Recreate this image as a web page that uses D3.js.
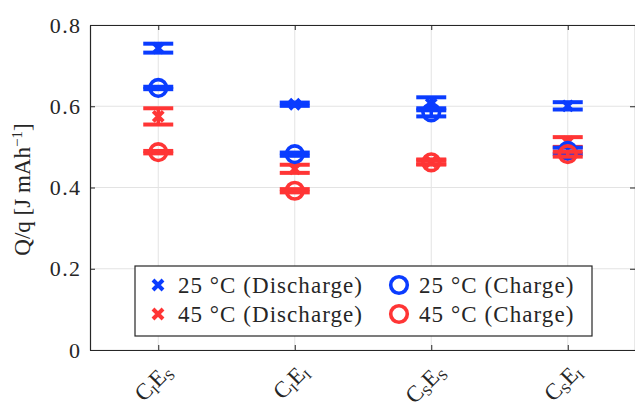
<!DOCTYPE html>
<html>
<head>
<meta charset="utf-8">
<script src="https://cdn.jsdelivr.net/npm/d3@7"></script>
<style>
  body { margin: 0; background: #fff; }
</style>
</head>
<body>
<div id="chart"></div>
<script>
// Data
const categories = [["C", "I", "E", "S"], ["C", "I", "E", "I"], ["C", "S", "E", "S"], ["C", "S", "E", "I"]];
const yTicks = [0, 0.2, 0.4, 0.6, 0.8];

const dis25 = [0.743, 0.605, 0.606, 0.601];
const dis25Err = [0.011, 0.004, 0.016, 0.009];
const dis45 = [0.575, 0.446, 0.463, 0.512];
const dis45Err = [0.020, 0.010, 0.006, 0.012];
const chg25 = [0.645, 0.482, 0.585, 0.490];
const chg25Err = [0.003, 0.004, 0.010, 0.008];
const chg45 = [0.487, 0.392, 0.462, 0.482];
const chg45Err = [0.003, 0.004, 0.005, 0.006];

const seriesNames = ["25 °C (Discharge)", "45 °C (Discharge)", "25 °C (Charge)", "45 °C (Charge)"];

const blue = "#0a3cff", red = "#ff3535";
const series = [
  {name: seriesNames[0], vals: dis25, err: dis25Err, color: blue, shape: "x"},
  {name: seriesNames[1], vals: dis45, err: dis45Err, color: red, shape: "x"},
  {name: seriesNames[2], vals: chg25, err: chg25Err, color: blue, shape: "o"},
  {name: seriesNames[3], vals: chg45, err: chg45Err, color: red, shape: "o"}
];

const width = 635, height = 408;
const mLeft = 90, mRight = 636, mTop = 25, mBottom = 350;
const serif = "Liberation Serif";
const axisColor = "#262626";
const widen = 1.1; // Computer Modern runs wider than Times

const svg = d3.select("#chart").append("svg")
  .attr("width", width).attr("height", height)
  .attr("font-family", serif);

const x = d3.scaleLinear().domain([0.5, 4.5]).range([mLeft, mRight]);
const y = d3.scaleLinear().domain([0, 0.8]).range([mBottom, mTop]);

// grid
svg.append("g").selectAll("line")
  .data(yTicks)
  .join("line")
  .attr("x1", mLeft).attr("x2", mRight)
  .attr("y1", d => y(d)).attr("y2", d => y(d))
  .attr("stroke", "#e3e3e3").attr("stroke-width", 1);
svg.append("g").selectAll("line")
  .data(d3.range(1, 5))
  .join("line")
  .attr("x1", d => x(d)).attr("x2", d => x(d))
  .attr("y1", mTop).attr("y2", mBottom)
  .attr("stroke", "#e3e3e3").attr("stroke-width", 1);

// axes (ticks pointing inward, on all four sides)
const yLeft = svg.append("g").attr("transform", `translate(${mLeft},0)`)
  .call(d3.axisLeft(y).tickValues(yTicks).tickSizeInner(-5).tickSizeOuter(0)
    .tickPadding(10).tickFormat(d => d === 0 ? "0" : d3.format(".1f")(d)));
svg.append("g").attr("transform", `translate(${mRight - 1},0)`)
  .call(d3.axisRight(y).tickValues(yTicks).tickSizeInner(-5).tickSizeOuter(0).tickFormat(""));
svg.append("g").attr("transform", `translate(0,${mBottom})`)
  .call(d3.axisBottom(x).tickValues(d3.range(1, 5)).tickSizeInner(-5).tickSizeOuter(0).tickFormat(""));
svg.append("g").attr("transform", `translate(0,${mTop})`)
  .call(d3.axisTop(x).tickValues(d3.range(1, 5)).tickSizeInner(-5).tickSizeOuter(0).tickFormat(""));
svg.selectAll(".domain, .tick line").attr("stroke", axisColor);
svg.selectAll(".domain").attr("stroke-width", 1.2);
yLeft.attr("font-family", serif).attr("font-size", 22);
yLeft.selectAll("text").attr("font-family", serif).attr("font-size", 22).attr("fill", axisColor)
  .each(function() { this.setAttribute("textLength", this.getComputedTextLength() * widen); });

// rotated category labels with subscripts
const xl = svg.append("g").selectAll("text")
  .data(categories)
  .join("text")
  .attr("font-family", serif)
  .attr("fill", axisColor)
  .attr("text-anchor", "end")
  .attr("font-size", 23)
  .attr("transform", (d, i) => `translate(${x(i + 1) + 15},${mBottom + 23}) rotate(-45)`);
xl.each(function(d) {
  const t = d3.select(this);
  t.append("tspan").text(d[0]);
  t.append("tspan").attr("dy", 4).attr("font-size", 14).text(d[1]);
  t.append("tspan").attr("dy", -4).text(d[2]);
  t.append("tspan").attr("dy", 4).attr("font-size", 14).text(d[3]);
});

// y label
const yl = svg.append("text")
  .attr("transform", `translate(30,${(mTop + mBottom) / 2 + 2}) rotate(-90)`)
  .attr("font-family", serif)
  .attr("fill", axisColor)
  .attr("text-anchor", "middle")
  .attr("font-size", 23);
yl.append("tspan").text("Q/q [J mAh");
yl.append("tspan").attr("dy", -8).attr("font-size", 15).text("−1");
yl.append("tspan").attr("dy", 8).text("]");

// marker helper
function drawMarker(g, shape, color) {
  if (shape === "x") {
    const s = 5;
    g.append("path")
      .attr("d", `M${-s},${-s}L${s},${s}M${-s},${s}L${s},${-s}`)
      .attr("stroke", color).attr("stroke-width", 4).attr("fill", "none");
  } else {
    g.append("circle").attr("r", 8.3)
      .attr("stroke", color).attr("stroke-width", 3.6).attr("fill", "none");
  }
}

// error bars + markers
const capHalf = 15;
series.forEach(s => {
  const g = svg.append("g");
  s.vals.forEach((v, i) => {
    const cx = x(i + 1);
    const lo = y(v - s.err[i]), hi = y(v + s.err[i]);
    g.append("line").attr("x1", cx).attr("x2", cx).attr("y1", lo).attr("y2", hi)
      .attr("stroke", s.color).attr("stroke-width", 3.5);
    [lo, hi].forEach(yy => {
      g.append("line").attr("x1", cx - capHalf).attr("x2", cx + capHalf)
        .attr("y1", yy).attr("y2", yy)
        .attr("stroke", s.color).attr("stroke-width", 4);
    });
    drawMarker(g.append("g").attr("transform", `translate(${cx},${y(v)})`), s.shape, s.color);
  });
});

// legend
const lg = svg.append("g");
lg.append("rect").attr("x", 135).attr("y", 266).attr("width", 457).attr("height", 70)
  .attr("fill", "#fff").attr("stroke", axisColor).attr("stroke-width", 1.2);
const legPos = [[158, 285], [158, 314], [399, 285], [399, 314]];
series.forEach((s, i) => {
  const [lx, ly] = legPos[i];
  drawMarker(lg.append("g").attr("transform", `translate(${lx},${ly})`), s.shape, s.color);
  lg.append("text").attr("x", lx + 20).attr("y", ly + 8)
    .attr("font-family", serif).attr("fill", axisColor)
    .attr("font-size", 23).text(s.name)
    .each(function() { this.setAttribute("textLength", this.getComputedTextLength() * widen); });
});
</script>
</body>
</html>
